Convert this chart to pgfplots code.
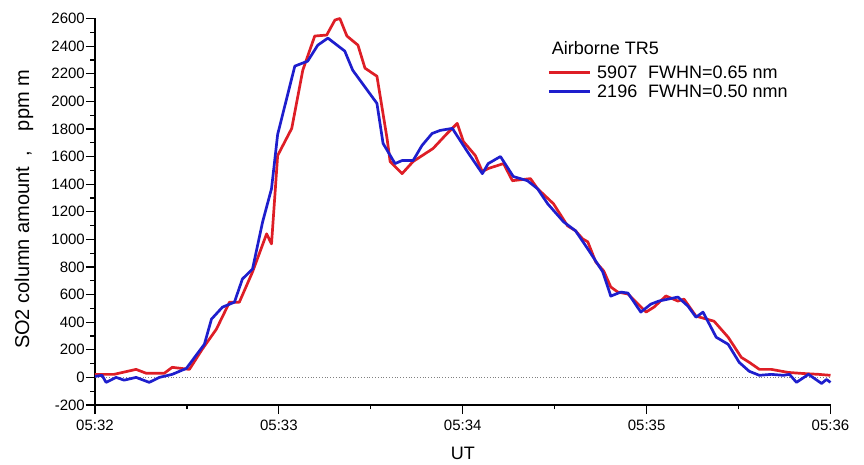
\documentclass[border=0pt]{standalone}
\usepackage{fontspec}
\setmainfont{Liberation Sans}
\usepackage{pgfplots}
\pgfplotsset{compat=1.18}
\definecolor{cred}{RGB}{222,30,38}
\definecolor{cblue}{RGB}{30,30,205}
\begin{document}
\begin{tikzpicture}
\path[use as bounding box] (-95pt,-60pt) rectangle (769pt,405pt);
\begin{axis}[
  scale only axis, width=735.5pt, height=386.5pt,
  xmin=0, xmax=240, ymin=-200, ymax=2600,
  axis x line*=bottom, axis y line*=left,
  axis line style={-, line width=1.4pt, black},
  tick align=outside,
  major tick length=9pt, minor tick length=4.5pt,
  every tick/.style={black, line width=1.2pt},
  xtick={0,60,120,180,240},
  xticklabels={05:32,05:33,05:34,05:35,05:36},
  minor x tick num=1,
  ytick={-200,0,200,400,600,800,1000,1200,1400,1600,1800,2000,2200,2400,2600},
  yticklabels={-200,0,200,400,600,800,1000,1200,1400,1600,1800,2000,2200,2400,2600},
  minor y tick num=1,
  ticklabel style={font=\fontsize{15}{18}\selectfont},
  yticklabel style={inner sep=1pt},
  xticklabel style={yshift=-2pt},
  xlabel={\fontsize{18}{21}\selectfont UT},
  ylabel={\fontsize{20}{24}\selectfont SO2 column amount\hspace{0.5em},\hspace{1em}ppm m},
  xlabel style={at={(axis description cs:0.5,-0.1247)}, anchor=center},
  ylabel style={at={(axis description cs:-0.0965,0.506)}, anchor=center},
  clip=false,
  legend style={at={(rel axis cs:0.615,0.884)}, anchor=north west, draw=none, fill=none,
    font=\fontsize{18}{21}\selectfont, inner sep=0pt, row sep=1pt, column sep=4pt},
  legend cell align=left,
  legend image code/.code={\draw[#1] (0pt,0pt) -- (41pt,0pt);},
]
\addplot[gray, dotted, line width=0.8pt, forget plot] coordinates {(0,0) (240,0)};
\addplot[cred, line width=2.7pt, line join=round] coordinates {
(0,22) (6.2,22) (13.4,58) (16.7,30) (22.6,30) (25.2,73) (30.8,58) (35.0,204)
(39.6,349) (43.9,545) (47.1,545) (51.4,764) (56.0,1040) (57.6,967) (59.6,1607)
(64.2,1804) (67.8,2225) (71.7,2473) (75.6,2480) (78.3,2589) (79.9,2600) (82.2,2473)
(85.8,2407) (88.1,2240) (92.0,2182) (95.3,1731) (96.3,1564) (100.2,1476) (103.8,1564)
(110.3,1658) (114.9,1767) (118.2,1840) (120.2,1709) (124.1,1607) (126.4,1491)
(128.3,1513) (133.3,1549) (136.2,1425) (142.1,1440) (144.4,1367) (149.6,1258)
(154.2,1098) (156.8,1062) (159.1,1004) (160.8,982) (163.4,836) (166.0,771)
(168.3,655) (170.6,618) (173.9,604) (179.8,473) (182.4,509) (186.3,590) (190.2,553)
(192.2,567) (196.1,444) (202.0,407) (206.6,291) (210.9,145) (213.5,109) (216.8,58)
(220.7,58) (226.2,36) (230.5,29) (236.1,22) (240,15)
};
\addlegendentry{5907\hspace{0.6em}FWHN=0.65 nm}
\addplot[cblue, line width=2.7pt, line join=round] coordinates {
(0,7) (2.3,15) (3.6,-36) (6.9,0) (9.5,-20) (13.4,0) (17.7,-36) (21.0,0) (25.2,22)
(29.8,65) (35.7,240) (38.0,422) (41.6,509) (45.5,545) (48.1,713) (51.4,785)
(54.7,1127) (57.6,1367) (59.6,1760) (65.2,2255) (69.4,2291) (72.7,2407) (76.0,2458)
(81.5,2364) (84.1,2225) (92.0,1985) (94.0,1695) (97.9,1549) (100.2,1571) (103.8,1571)
(106.7,1680) (110.0,1767) (112.6,1789) (116.6,1804) (121.5,1636) (126.4,1476)
(128.3,1549) (132.3,1600) (136.5,1455) (141.1,1425) (144.4,1367) (147.7,1258)
(152.9,1127) (156.8,1062) (160.8,931) (165.7,764) (168.3,589) (171.6,618) (173.9,611)
(178.1,473) (181.4,531) (184.0,553) (190.2,582) (193.5,516) (196.1,436) (198.4,473)
(202.7,291) (206.6,240) (210.2,109) (213.5,44) (216.8,15) (220.7,22) (224.6,15)
(226.6,22) (228.9,-36) (232.8,22) (237.1,-44) (238.7,-15) (240,-36)
};
\addlegendentry{2196\hspace{0.6em}FWHN=0.50 nmn}
\node[anchor=west, inner sep=0pt, font=\fontsize{18}{21}\selectfont] at (rel axis cs:0.621,0.923) {Airborne TR5};
\end{axis}
\end{tikzpicture}
\end{document}
